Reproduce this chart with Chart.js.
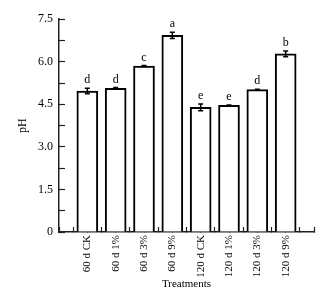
<!DOCTYPE html>
<html>
<head>
<meta charset="utf-8">
<script src="https://cdn.jsdelivr.net/npm/chart.js@4/dist/chart.umd.min.js"></script>
<style>
  html, body { margin: 0; padding: 0; background: #fff; }
  #wrap { width: 322px; height: 295px; }
</style>
</head>
<body>
<div id="wrap"><canvas id="myChart"></canvas></div>
<script>
const treatments = ['60 d CK', '60 d 1%', '60 d 3%', '60 d 9%', '120 d CK', '120 d 1%', '120 d 3%', '120 d 9%'];
const phValues = [4.97, 5.06, 5.85, 6.93, 4.39, 4.46, 5.02, 6.28];
const phErrors = [0.10, 0.03, 0.02, 0.11, 0.12, 0.02, 0.01, 0.10];
const letters = ['d', 'd', 'c', 'a', 'e', 'e', 'd', 'b'];
const yTicks = [0, 1.5, 3.0, 4.5, 6.0, 7.5];

const serif = 'Liberation Serif, Times New Roman, serif';
const axisColor = '#222';

// error bars + significance letters
const errorBars = {
    id: 'errorBars',
    afterDatasetsDraw(chart) {
        const ctx = chart.ctx;
        const yScale = chart.scales.y;
        const meta = chart.getDatasetMeta(0);
        ctx.save();
        ctx.strokeStyle = '#000';
        ctx.lineWidth = 1.5;
        ctx.fillStyle = '#000';
        ctx.font = '12px ' + serif;
        ctx.textAlign = 'center';
        ctx.textBaseline = 'bottom';
        meta.data.forEach(function (bar, i) {
            const x = bar.x;
            const top = yScale.getPixelForValue(phValues[i] + phErrors[i]);
            const bot = yScale.getPixelForValue(phValues[i] - phErrors[i]);
            ctx.beginPath();
            ctx.moveTo(x, top); ctx.lineTo(x, bot);
            ctx.moveTo(x - 2.5, top); ctx.lineTo(x + 2.5, top);
            ctx.moveTo(x - 2.5, bot); ctx.lineTo(x + 2.5, bot);
            ctx.stroke();
            ctx.fillText(letters[i], x, top - 2);
        });
        ctx.restore();
    }
};

const myChart = new Chart(document.getElementById('myChart'), {
    type: 'bar',
    data: {
        datasets: [{
            data: phValues.map(function (v, i) { return { x: i, y: v }; }),
            backgroundColor: '#fff',
            borderColor: '#000',
            borderWidth: 2,
            barThickness: 21
        }]
    },
    options: {
        responsive: true,
        maintainAspectRatio: false,
        animation: false,
        layout: { padding: { left: 11, right: 8, top: 19, bottom: 0 } },
        plugins: { legend: { display: false }, tooltip: { enabled: false } },
        scales: {
            x: {
                type: 'linear',
                min: -1,
                max: 8,
                offset: false,
                afterFit: function (scale) {
                    scale.height = 63;
                    scale.paddingLeft = 0;
                    scale.paddingRight = 0;
                },
                afterBuildTicks: function (scale) {
                    const t = [];
                    for (let k = -2; k <= 16; k++) t.push({ value: k / 2 });
                    scale.ticks = t;
                },
                grid: { drawOnChartArea: false, tickLength: -5, color: axisColor, tickWidth: 1.2, offset: false },
                border: { display: true, color: axisColor, width: 1.5 },
                ticks: {
                    autoSkip: false,
                    minRotation: 90,
                    maxRotation: 90,
                    padding: 8,
                    color: '#000',
                    font: { family: serif, size: 11 },
                    callback: function (value) {
                        return Number.isInteger(value) && value >= 0 && value < treatments.length ? treatments[value] : '';
                    }
                },
                title: {
                    display: true,
                    text: 'Treatments',
                    color: '#000',
                    font: { family: serif, size: 11 },
                    padding: { top: 0, bottom: 4 }
                }
            },
            y: {
                min: 0,
                max: 7.5,
                afterFit: function (scale) { scale.width = 48; },
                afterBuildTicks: function (scale) {
                    const t = [];
                    for (let k = 0; k <= 10; k++) t.push({ value: k * 0.75 });
                    scale.ticks = t;
                },
                grid: { drawOnChartArea: false, tickLength: -6, color: axisColor, tickWidth: 1.2 },
                border: { display: true, color: axisColor, width: 1.5 },
                ticks: {
                    padding: 12,
                    color: '#000',
                    font: { family: serif, size: 12 },
                    callback: function (value) {
                        const hit = yTicks.find(function (t) { return Math.abs(t - value) < 1e-6; });
                        if (hit === undefined) return '';
                        return hit === 0 ? '0' : hit.toFixed(1);
                    }
                },
                title: {
                    display: true,
                    text: 'pH',
                    color: '#000',
                    font: { family: serif, size: 12 },
                    padding: { top: 5, bottom: 4 }
                }
            }
        }
    },
    plugins: [errorBars]
});
</script>
</body>
</html>
